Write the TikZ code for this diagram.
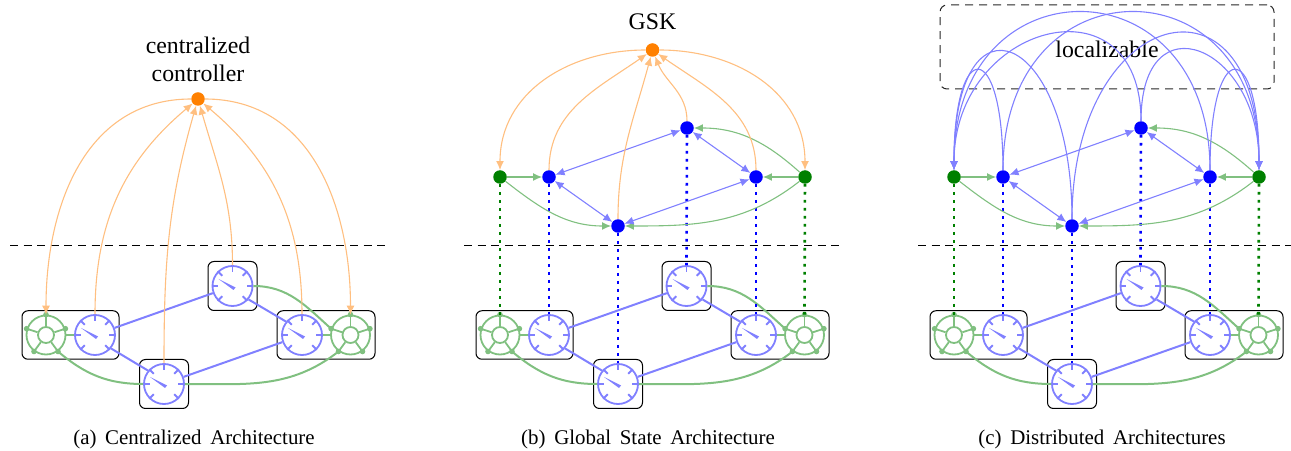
\documentclass[tikz,border=0pt]{standalone}
\usepackage{fontspec}
\setmainfont{Liberation Serif}
\usetikzlibrary{arrows.meta,calc}
\definecolor{lblue}{RGB}{128,128,255}
\definecolor{lgreen}{RGB}{128,192,128}
\definecolor{lorange}{RGB}{255,191,128}
\definecolor{dgreen}{RGB}{0,128,0}
\definecolor{dorange}{RGB}{255,128,0}
\tikzset{
  x=1pt,y=1pt,
  tipstyle/.style={-{Latex[length=9pt,width=8pt]}},
  groupbox/.style={draw=black,line width=1pt,rounded corners=6pt,minimum height=48.5pt,inner sep=0pt},
  meter/.style={circle,draw=lblue,line width=1.8pt,minimum size=40pt,inner sep=0pt},
  wheel/.style={circle,draw=lgreen,line width=1.8pt,minimum size=39pt,inner sep=0pt},
  hub/.style={circle,draw=lgreen,line width=1.8pt,minimum size=16pt,inner sep=0pt},
  tick/.style={lblue,line width=1.8pt},
  spoke/.style={lgreen,line width=1.8pt},
  plink/.style={lblue,line width=2pt},
  glink/.style={lgreen,line width=2pt},
  orangearc/.style={lorange,line width=1.1pt,tipstyle},
  bluearc/.style={lblue,line width=1.1pt,tipstyle},
  greenarc/.style={lgreen,line width=1.1pt,tipstyle},
  bluedouble/.style={lblue,line width=1.1pt,{Latex[length=9pt,width=8pt]}-{Latex[length=9pt,width=8pt]}},
  dotblue/.style={blue,line width=2.6pt,dash pattern=on 2.6pt off 5.4pt},
  dotgreen/.style={dgreen,line width=2.6pt,dash pattern=on 2.6pt off 5.4pt},
  bluedot/.style={circle,fill=blue,minimum size=13.5pt,inner sep=0pt},
  greendot/.style={circle,fill=dgreen,minimum size=13.5pt,inner sep=0pt},
  orangedot/.style={circle,fill=dorange,minimum size=13.5pt,inner sep=0pt},
  divider/.style={black,line width=1pt,dash pattern=on 8pt off 5.6pt},
  labeltext/.style={font=\fontsize{23.8}{27.5}\selectfont,align=center,inner sep=0pt},
  captiontext/.style={font=\fontsize{20.9}{24}\selectfont,inner sep=0pt},
}
% meter: name, x, y
\newcommand{\drawmeter}[3]{%
  \node[meter] (#1) at (#2,#3) {};
  \foreach \a in {0,45,90,135,180,225,315}
    \draw[tick] (#1.\a) -- ++(\a+180:6.5);
  \fill[lblue] ($(#1.center)+(3,-1.5)$) -- ($(#1.center)+(-14,7)$) -- ($(#1.center)+(1,-4)$) -- cycle;
}
% wheel: name, x, y
\newcommand{\drawwheel}[3]{%
  \node[wheel] (#1) at (#2,#3) {};
  \node[hub] (#1h) at (#2,#3) {};
  \foreach \a in {90,162,234,306,18} {
    \draw[spoke] (#1h.\a) -- (#1.\a);
    \fill[lgreen] (#1.\a) circle (2.8);
  }
}
% lower layer: prefix, x offset
\newcommand{\lowerlayer}[2]{%
  \begin{scope}[xshift=#2pt]
    \coordinate (#1dl) at (10,204);
    \coordinate (#1dr) at (385,204);
    \draw[divider] (#1dl) -- (#1dr);
    \node[groupbox,minimum width=97pt] (#1bl) at (70.5,115) {};
    \node[groupbox,minimum width=98pt] (#1br) at (326,115) {};
    \node[groupbox,minimum width=49pt,minimum height=49pt] (#1bt) at (232.5,164) {};
    \node[groupbox,minimum width=49pt,minimum height=49pt] (#1bb) at (164,66) {};
    \drawwheel{#1wl}{46}{115}
    \drawwheel{#1wr}{350.5}{115}
    \drawmeter{#1ml}{95}{115}
    \drawmeter{#1mr}{302}{115}
    \drawmeter{#1mt}{232.5}{164}
    \drawmeter{#1mb}{164}{66}
    \draw[glink] (#1wl.east) -- (#1ml.west);
    \draw[glink] (#1mr.east) -- (#1wr.west);
    \draw[plink] (#1ml.20) -- (#1mt.200);
    \draw[plink] (#1ml.-40) -- (#1mb.140);
    \draw[plink] (#1mb.20) -- (#1mr.200);
    \draw[plink] (#1mt.-40) -- (#1mr.140);
    \draw[glink] (#1wl.306) to[out=-40,in=180] (#1mb.west);
    \draw[glink] (#1mb.east) to[out=0,in=-142] (#1wr.234);
    \draw[glink] (#1mt.east) to[out=0,in=138] (#1wr.162);
  \end{scope}
}
% upper layer nodes and links: prefix, x offset
\newcommand{\upperlayer}[2]{%
  \begin{scope}[xshift=#2pt]
    \node[greendot] (#1gl) at (46,273) {};
    \node[greendot] (#1gr) at (351,273) {};
    \node[bluedot] (#1nl) at (95,273) {};
    \node[bluedot] (#1nr) at (302,273) {};
    \node[bluedot] (#1nt) at (233,322) {};
    \node[bluedot] (#1nb) at (164,224) {};
    \draw[dotgreen] (#1gl) -- (#1wl.north);
    \draw[dotgreen] (#1gr) -- (#1wr.north);
    \draw[dotblue] (#1nl) -- (#1ml.north);
    \draw[dotblue] (#1nr) -- (#1mr.north);
    \draw[dotblue] (#1nt) -- (#1mt.north);
    \draw[dotblue] (#1nb) -- (#1mb.north);
    \draw[greenarc] (#1gl) -- (#1nl);
    \draw[greenarc] (#1gr) -- (#1nr);
    \draw[greenarc] (#1gl) to[out=-38,in=180] (#1nb);
    \draw[greenarc] (#1gr) to[out=-142,in=0] (#1nb);
    \draw[greenarc] (#1gr) to[out=138,in=0] (#1nt);
    \draw[bluedouble] (#1nl) -- (#1nt);
    \draw[bluedouble] (#1nl) -- (#1nb);
    \draw[bluedouble] (#1nr) -- (#1nt);
    \draw[bluedouble] (#1nr) -- (#1nb);
  \end{scope}
}
\begin{document}
\begin{tikzpicture}
\useasboundingbox (0,0) rectangle (1291,450);
\lowerlayer{a}{0}
\lowerlayer{b}{454}
\lowerlayer{c}{908}
\upperlayer{b}{454}
\upperlayer{c}{908}
% panel a
\node[orangedot] (actrl) at (198,351) {};
\node[labeltext,above=17.5pt] (alabel) at (198,351) {centralized\\controller};
\draw[orangearc] (actrl) to[out=180,in=90,looseness=1.05] (awl.north);
\draw[orangearc] (aml.north) to[out=90,in=-140] (actrl);
\draw[orangearc] (amb.north) to[out=90,in=-106] (actrl);
\draw[orangearc] (amt.north) to[out=90,in=-74] (actrl);
\draw[orangearc] (amr.north) to[out=90,in=-40] (actrl);
\draw[orangearc] (actrl) to[out=0,in=90,looseness=1.05] (awr.north);
% panel b
\node[orangedot] (bctrl) at (652.5,400) {};
\node[labeltext] (blabel) at (652.5,428) {GSK};
\draw[orangearc] (bctrl) to[out=180,in=90,looseness=1.05] (bgl);
\draw[orangearc] (bnl) to[out=90,in=-145] (bctrl);
\draw[orangearc] (bnb) to[out=90,in=-105] (bctrl);
\draw[orangearc] (bnt) to[out=90,in=-68] (bctrl);
\draw[orangearc] (bnr) to[out=90,in=-35] (bctrl);
\draw[orangearc] (bctrl) to[out=0,in=90,looseness=1.05] (bgr);
% panel c
\node[draw=black!85,line width=1pt,dash pattern=on 8pt off 6pt,rounded corners=7pt,minimum width=334pt,minimum height=84pt,inner sep=0pt] (cbox) at (1107,403) {};
\node[labeltext] (clabel) at (1107,401) {localizable};
\draw[bluearc] (cnl.north) to[out=90,in=90,distance=133pt] (cgl.north);
\draw[bluearc] (cnb.north) to[out=90,in=90,distance=187pt] (cgl.north);
\draw[bluearc] (cnt.north) to[out=90,in=90,distance=147pt] (cgl.north);
\draw[bluearc] (cnr.north) to[out=90,in=90,distance=210pt] (cgl.north);
\draw[bluearc] (cnr.north) to[out=90,in=90,distance=133pt] (cgr.north);
\draw[bluearc] (cnt.north) to[out=90,in=90,distance=124pt] (cgr.north);
\draw[bluearc] (cnb.north) to[out=90,in=90,distance=212pt] (cgr.north);
\draw[bluearc] (cnl.north) to[out=90,in=90,distance=210pt] (cgr.north);
% captions
\node[captiontext] (capa) at (194,10.5) {(a)\, Centralized\, Architecture};
\node[captiontext] (capb) at (648,10.5) {(b)\, Global\, State\, Architecture};
\node[captiontext] (capc) at (1102,10.5) {(c)\, Distributed\, Architectures};
\end{tikzpicture}
\end{document}
